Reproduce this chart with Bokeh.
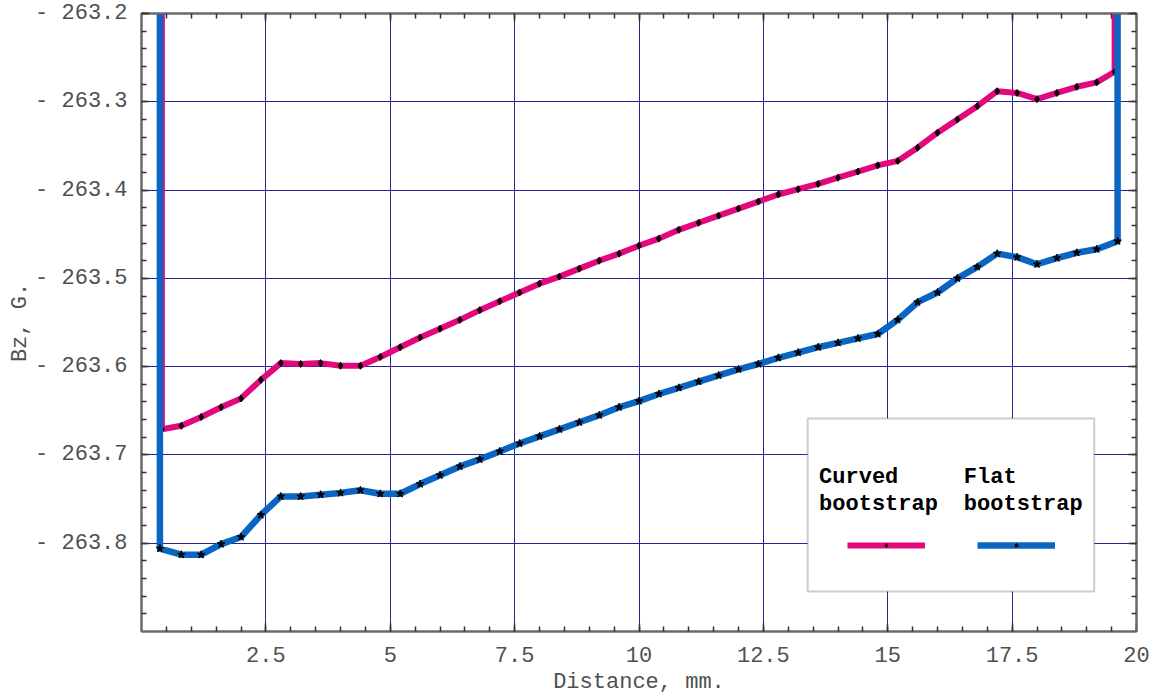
import numpy as np
from bokeh.plotting import figure
from bokeh.models import (ColumnDataSource, FixedTicker, LinearAxis, Range1d,
                          CustomJSTickFormatter, BoxAnnotation, Label, Legend, LegendItem)
from bokeh.embed import file_html
from bokeh.resources import INLINE

# ---------------- data ----------------
# first / last values lie far above the plotted window (boundary artefacts)
curved_x = [0.41, 0.41, 0.8, 1.2, 1.6, 2.0, 2.4, 2.8, 3.2, 3.6, 4.0, 4.4, 4.8, 5.2, 5.6,
            6.0, 6.4, 6.8, 7.2, 7.6, 8.0, 8.4, 8.8, 9.2, 9.6, 10.0, 10.4, 10.8, 11.2,
            11.6, 12.0, 12.4, 12.8, 13.2, 13.6, 14.0, 14.4, 14.8, 15.2, 15.6, 16.0,
            16.4, 16.8, 17.2, 17.6, 18.0, 18.4, 18.8, 19.2, 19.56, 19.56]
curved_bz = [-262.5, -263.671, -263.667, -263.657, -263.646, -263.636, -263.615, -263.596,
             -263.597, -263.596, -263.599, -263.599, -263.589, -263.578, -263.567,
             -263.557, -263.547, -263.536, -263.526, -263.516, -263.506, -263.498,
             -263.489, -263.480, -263.472, -263.463, -263.455, -263.445, -263.437,
             -263.429, -263.421, -263.413, -263.405, -263.399, -263.393, -263.386,
             -263.379, -263.372, -263.367, -263.352, -263.335, -263.320, -263.305,
             -263.288, -263.290, -263.297, -263.290, -263.283, -263.278, -263.266, -262.5]

flat_x = [0.37, 0.37, 0.8, 1.2, 1.6, 2.0, 2.4, 2.8, 3.2, 3.6, 4.0, 4.4, 4.8, 5.2, 5.6,
          6.0, 6.4, 6.8, 7.2, 7.6, 8.0, 8.4, 8.8, 9.2, 9.6, 10.0, 10.4, 10.8, 11.2,
          11.6, 12.0, 12.4, 12.8, 13.2, 13.6, 14.0, 14.4, 14.8, 15.2, 15.6, 16.0,
          16.4, 16.8, 17.2, 17.6, 18.0, 18.4, 18.8, 19.2, 19.62, 19.62]
flat_bz = [-262.5, -263.806, -263.813, -263.813, -263.801, -263.793, -263.768, -263.747,
           -263.747, -263.745, -263.743, -263.740, -263.744, -263.744, -263.733,
           -263.723, -263.713, -263.705, -263.696, -263.687, -263.679, -263.671,
           -263.663, -263.655, -263.646, -263.639, -263.631, -263.624, -263.617,
           -263.610, -263.603, -263.597, -263.590, -263.584, -263.578, -263.573,
           -263.568, -263.563, -263.547, -263.527, -263.516, -263.500, -263.487,
           -263.472, -263.476, -263.484, -263.477, -263.471, -263.467, -263.458, -262.5]

x_ticks = [2.5, 5, 7.5, 10, 12.5, 15, 17.5, 20]
y_ticks = [-263.8, -263.7, -263.6, -263.5, -263.4, -263.3, -263.2]
series_names = ["Curved", "bootstrap", "Flat", "bootstrap"]

# ---------------- styling ----------------
FONT = "Liberation Mono"
PINK = "#e4087e"
BLUE = "#0b65c2"
GRID = "#25258f"
FRAME = "#6a6a6a"
TXT = "#505050"

x_minor = [float(v) for v in np.round(np.arange(0.5, 20.0, 0.5), 2)]
y_minor = [float(v) for v in np.round(np.arange(-263.88, -263.2, 0.02), 2)]
xticker = FixedTicker(ticks=x_ticks, minor_ticks=x_minor)
yticker = FixedTicker(ticks=y_ticks, minor_ticks=y_minor)

p = figure(width=1154, height=698, x_range=Range1d(0, 20), y_range=Range1d(-263.9, -263.2),
           output_backend="svg", toolbar_location=None,
           min_border_left=141, min_border_right=18, min_border_top=13, min_border_bottom=67,
           x_axis_label="Distance, mm.", y_axis_label="Bz, G.")
p.background_fill_color = "white"
p.border_fill_color = "white"
p.outline_line_color = FRAME
p.outline_line_width = 2

xfmt = CustomJSTickFormatter(code="return String(tick);")
yfmt = CustomJSTickFormatter(code="return '- ' + Math.abs(tick).toFixed(1);")

for ax, tk, fm in ((p.xaxis[0], xticker, xfmt), (p.yaxis[0], yticker, yfmt)):
    ax.ticker = tk
    ax.formatter = fm
    ax.axis_line_color = FRAME
    ax.axis_line_width = 2
    ax.major_tick_in = 8
    ax.major_tick_out = 0
    ax.minor_tick_in = 5
    ax.minor_tick_out = 0
    ax.major_tick_line_color = "#333333"
    ax.minor_tick_line_color = "#333333"
    ax.major_tick_line_width = 1.5
    ax.minor_tick_line_width = 1.5
    ax.major_label_text_font = FONT
    ax.major_label_text_font_size = "22px"
    ax.major_label_text_color = TXT
    ax.axis_label_text_font = FONT
    ax.axis_label_text_font_size = "22px"
    ax.axis_label_text_font_style = "normal"
    ax.axis_label_text_color = TXT

p.xaxis[0].major_label_standoff = 15
p.xaxis[0].axis_label_standoff = 5
p.yaxis[0].major_label_standoff = 14
p.yaxis[0].axis_label_standoff = -1

blank = CustomJSTickFormatter(code="return '';")
for side, tk in (("above", FixedTicker(ticks=x_ticks, minor_ticks=x_minor)),
                 ("right", FixedTicker(ticks=y_ticks, minor_ticks=y_minor))):
    ax = LinearAxis(ticker=tk, formatter=blank, major_label_text_font_size="1px",
                    major_label_standoff=0,
                    axis_line_color=FRAME, axis_line_width=2,
                    major_tick_in=8, major_tick_out=0, minor_tick_in=5, minor_tick_out=0,
                    major_tick_line_color="#333333", minor_tick_line_color="#333333",
                    major_tick_line_width=1.5, minor_tick_line_width=1.5)
    p.add_layout(ax, side)

p.xgrid.grid_line_color = GRID
p.ygrid.grid_line_color = GRID
p.xgrid.grid_line_width = 1
p.ygrid.grid_line_width = 1

src_c = ColumnDataSource(dict(x=curved_x, y=curved_bz))
src_f = ColumnDataSource(dict(x=flat_x, y=flat_bz))

lc = p.line("x", "y", source=src_c, line_color=PINK, line_width=6, line_join="round")
mc = p.scatter("x", "y", source=src_c, marker="diamond", size=7, color="black")
lf = p.line("x", "y", source=src_f, line_color=BLUE, line_width=6.5, line_join="round")
mf = p.scatter("x", "y", source=src_f, marker="star", size=8, color="black")

# ---------------- legend ----------------
box = BoxAnnotation(left=13.39, right=19.15, top=-263.6586, bottom=-263.8546,
                    fill_color="white", fill_alpha=1.0, line_color="#555555", line_width=2)
p.add_layout(box)

for txt, lx, ly in ((series_names[0], 13.62, -263.7259), (series_names[1], 13.62, -263.7560),
                    (series_names[2], 16.53, -263.7259), (series_names[3], 16.53, -263.7560)):
    p.add_layout(Label(x=lx, y=ly, text=txt, text_font=FONT, text_font_size="22px",
                       text_font_style="bold", text_color="black", text_baseline="alphabetic"))

legend = Legend(items=[LegendItem(label=" ", renderers=[lc, mc]),
                       LegendItem(label=" ", renderers=[lf, mf])],
                orientation="horizontal", location=(706, 81),
                glyph_width=78, glyph_height=10, label_height=10, label_width=0,
                label_standoff=0, label_text_font_size="1px", spacing=52,
                padding=0, margin=0, border_line_alpha=0, background_fill_alpha=0)
p.add_layout(legend)

open("out.html", "w").write(file_html(p, INLINE))
